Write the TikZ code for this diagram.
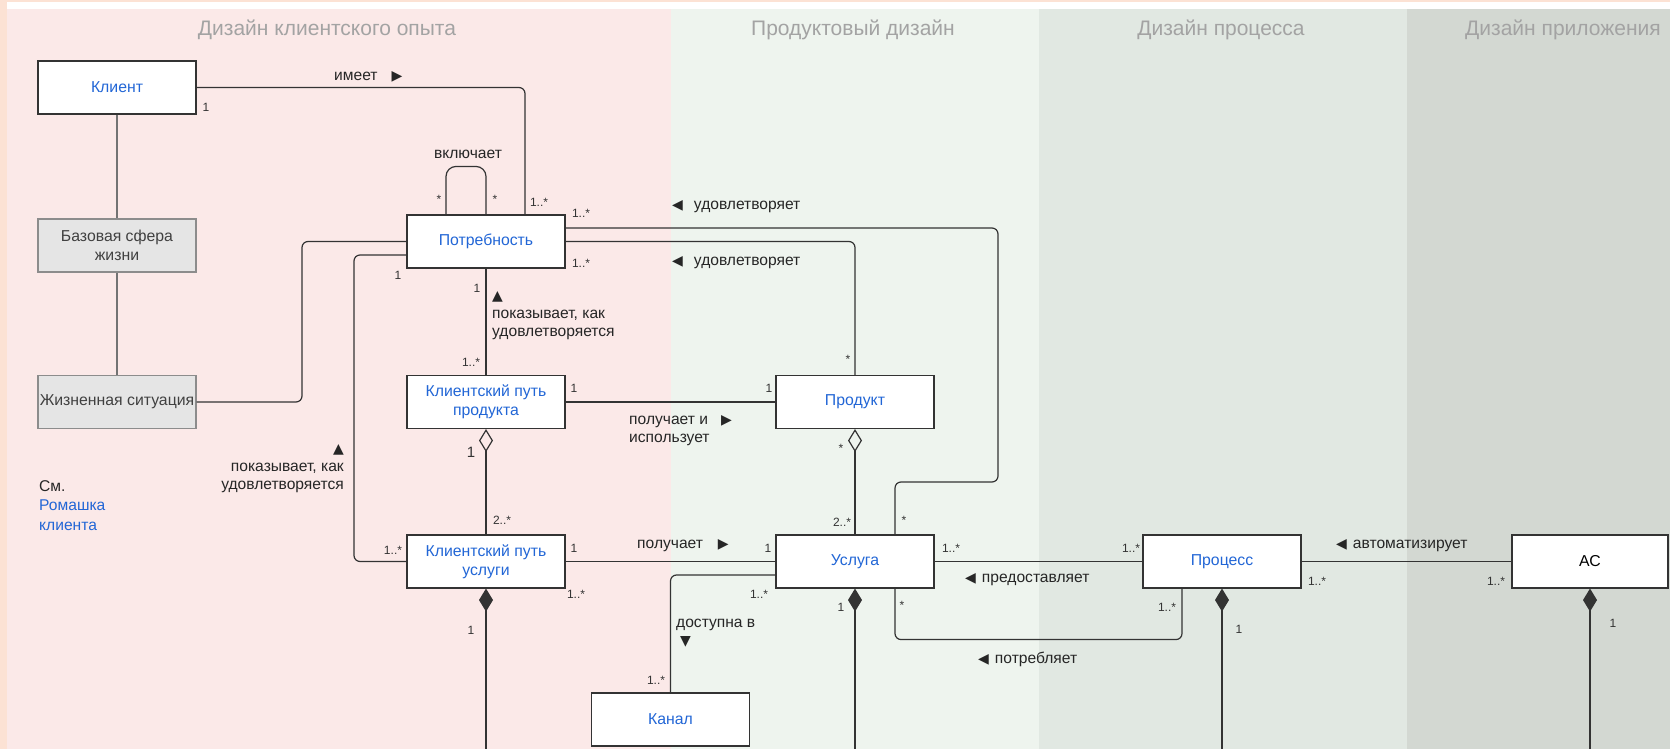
\documentclass[tikz,border=0pt]{standalone}
\usepackage{fontspec}
\setmainfont{Liberation Sans}
\newfontfamily\symfont{DejaVu Sans}
\usetikzlibrary{arrows.meta}
\definecolor{peach}{RGB}{252,226,212}
\definecolor{lanecx}{RGB}{251,233,232}
\definecolor{laneprod}{RGB}{238,244,238}
\definecolor{laneproc}{RGB}{225,232,226}
\definecolor{laneapp}{RGB}{211,216,210}
\definecolor{titlegray}{RGB}{163,163,163}
\definecolor{linkblue}{RGB}{34,102,214}
\definecolor{edgegray}{RGB}{51,51,51}
\newcommand{\trimark}[1]{{\symfont\fontsize{14}{14}\selectfont #1}}
\begin{document}
\begin{tikzpicture}[x=1pt,y=-1pt,
    box/.style={draw=edgegray,line width=1.1pt,fill=white,minimum width=158pt,minimum height=53pt,
        inner xsep=1pt,align=center,text=linkblue,font=\fontsize{15.8}{19}\selectfont},
    graybox/.style={box,draw=black!45,fill=black!10,text=black!75},
    conn/.style={draw=edgegray,line width=1.2pt,rounded corners=6pt},
    oagg/.style={{Diamond[open,length=23pt,width=14pt]}-},
    comp/.style={{Diamond[length=23pt,width=14pt]}-},
    mult/.style={font=\fontsize{12}{12}\selectfont,text=edgegray,inner sep=0pt},
    lbl/.style={font=\fontsize{15.6}{18}\selectfont,text=black!85,inner sep=0pt,align=left},
    lane/.style={font=\fontsize{21}{21}\selectfont,text=titlegray}]
    \useasboundingbox (0,0) rectangle (1670,749);
    \fill[peach] (0,0) rectangle (1670,749);
    \fill[white] (7,2) rectangle (1670,9);
    \fill[lanecx] (7,9) rectangle (671,749);
    \fill[laneprod] (671,9) rectangle (1039,749);
    \fill[laneproc] (1039,9) rectangle (1407,749);
    \fill[laneapp] (1407,9) rectangle (1670,749);

    \node[lane] (tcx) at (327,30) {Дизайн клиентского опыта};
    \node[lane] (tprod) at (853,30) {Продуктовый дизайн};
    \node[lane] (tproc) at (1221,30) {Дизайн процесса};
    \node[lane] (tapp) at (1563,30) {Дизайн приложения};

    \node[box] (client) at (117,87.5) {Клиент};
    \node[graybox] (sphere) at (117,245.5) {Базовая сфера\\жизни};
    \node[graybox] (situation) at (117,402) {Жизненная ситуация};
    \node[box] (need) at (486,241.5) {Потребность};
    \node[box] (cjprod) at (486,402) {Клиентский путь\\продукта};
    \node[box] (product) at (855,402) {Продукт};
    \node[box] (cjserv) at (486,561.5) {Клиентский путь\\услуги};
    \node[box] (service) at (855,561.5) {Услуга};
    \node[box] (process) at (1222,561.5) {Процесс};
    \node[box,text=black,minimum width=156pt] (system) at (1590,561.5) {АС};
    \node[box] (channel) at (670.5,719.5) {Канал};

    \draw[conn,draw=black!55,line width=2pt] (client) -- (sphere);
    \draw[conn,draw=black!55,line width=2pt] (sphere) -- (situation);
    \draw[conn] (client.east) -| ([xshift=39pt]need.north);
    \draw[conn,rounded corners=10pt] ([xshift=-40pt]need.north) -- ++(0,-48) -| (need.north);
    \draw[conn] ([yshift=13.5pt]need.east) -| (998,482) -| ([xshift=40pt]service.north);
    \draw[conn] (need.east) -| (product.north);
    \draw[conn] (situation.east) -- (302,402) |- (need.west);
    \draw[conn] ([yshift=-13.5pt]need.west) -- (354,255) |- (cjserv.west);
    \draw[conn] (need) -- (cjprod);
    \draw[conn] (cjprod) -- (product);
    \draw[conn,oagg] (cjprod.south) -- (cjserv.north);
    \draw[conn,oagg] (product.south) -- (service.north);
    \draw[conn] (cjserv) -- (service);
    \draw[conn,comp] (cjserv.south) -- ++(0,161);
    \draw[conn] ([yshift=-13.5pt]service.west) -| (channel.north);
    \draw[conn,comp] (service.south) -- ++(0,161);
    \draw[conn] (service) -- (process);
    \draw[conn] ([xshift=40pt]service.south) -- ++(0,51) -| ([xshift=-40pt]process.south);
    \draw[conn,comp] (process.south) -- ++(0,161);
    \draw[conn] (system) -- (process);
    \draw[conn,comp] (system.south) -- ++(0,161);

    \node[lbl,anchor=west] (lhas) at (334,77) {имеет\hspace{14pt}\trimark{▶}};
    \node[lbl] (lincl) at (468,154) {включает};
    \node[lbl,anchor=west] (lsat1) at (672,207) {\trimark{◀}\hspace{11pt}удовлетворяет};
    \node[lbl,anchor=west] (lsat2) at (672,263) {\trimark{◀}\hspace{11pt}удовлетворяет};
    \node[lbl,anchor=north west] (lshow1) at (492,291) {\trimark{▲}\\показывает, как\\удовлетворяется};
    \node[lbl,anchor=north east,align=right] (lshow2) at (344,444) {\trimark{▲}\\показывает, как\\удовлетворяется};
    \node[lbl,anchor=west] (luse) at (629,431) {получает и\hspace{13pt}\trimark{▶}\\использует};
    \node[lbl,anchor=west] (lget) at (637,546) {получает\hspace{15pt}\trimark{▶}};
    \node[lbl,anchor=north west] (lavail) at (676,619) {доступна в\\\hspace*{4pt}\trimark{▼}};
    \node[lbl,anchor=west] (lprov) at (965,580) {\trimark{◀}\hspace{6pt}предоставляет};
    \node[lbl,anchor=west] (lcons) at (978,659) {\trimark{◀}\hspace{6pt}потребляет};
    \node[lbl,anchor=west] (lauto) at (1336,546) {\trimark{◀}\hspace{6pt}автоматизирует};
    \node[lbl,anchor=north west,font=\fontsize{15.6}{19.5}\selectfont] (note) at (39,480)
        {См.\\\textcolor{linkblue}{Ромашка}\\\textcolor{linkblue}{клиента}};

    \node[mult] (m1) at (206,107) {1};
    \node[mult] (m2) at (539,202) {1..*};
    \node[mult] (m3) at (439,199) {*};
    \node[mult] (m4) at (495,199) {*};
    \node[mult] (m5) at (581,213) {1..*};
    \node[mult] (m6) at (581,263) {1..*};
    \node[mult] (m7) at (848,359) {*};
    \node[mult] (m8) at (904,520) {*};
    \node[mult] (m9) at (398,275) {1};
    \node[mult] (m10) at (477,288) {1};
    \node[mult] (m11) at (471,362) {1..*};
    \node[mult] (m12) at (574,388) {1};
    \node[mult] (m13) at (769,388) {1};
    \node[mult,font=\fontsize{15}{15}\selectfont] (m14) at (471,452) {1};
    \node[mult] (m15) at (841,448) {*};
    \node[mult] (m16) at (502,520) {2..*};
    \node[mult] (m17) at (842,522) {2..*};
    \node[mult] (m18) at (393,550) {1..*};
    \node[mult] (m19) at (574,548) {1};
    \node[mult] (m20) at (768,548) {1};
    \node[mult] (m21) at (576,594) {1..*};
    \node[mult] (m22) at (471,630) {1};
    \node[mult] (m23) at (759,594) {1..*};
    \node[mult] (m24) at (656,680) {1..*};
    \node[mult] (m25) at (841,607) {1};
    \node[mult] (m26) at (951,548) {1..*};
    \node[mult] (m27) at (1131,548) {1..*};
    \node[mult] (m28) at (902,605) {*};
    \node[mult] (m29) at (1167,607) {1..*};
    \node[mult] (m30) at (1239,629) {1};
    \node[mult] (m31) at (1317,581) {1..*};
    \node[mult] (m32) at (1496,581) {1..*};
    \node[mult] (m33) at (1613,623) {1};
\end{tikzpicture}
\end{document}
